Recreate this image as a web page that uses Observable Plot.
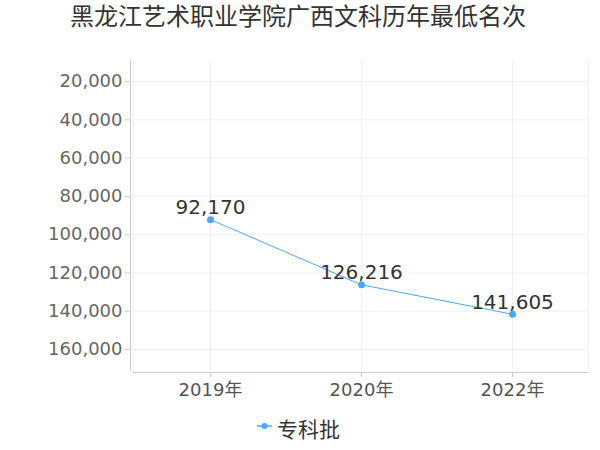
<!DOCTYPE html>
<html>
<head>
<meta charset="utf-8">
<script src="https://cdn.jsdelivr.net/npm/d3@7"></script>
<script src="https://cdn.jsdelivr.net/npm/@observablehq/plot@0.6"></script>
<style>
  html, body { margin: 0; padding: 0; background: #fff; }
  #wrap { position: relative; width: 600px; height: 450px; font-family: "DejaVu Sans", "Noto Sans CJK SC", sans-serif; }
  #title { position: absolute; left: 0; width: 596px; text-align: center; top: 2px; font-size: 24px; line-height: 30px; color: #333; white-space: nowrap; }
  #legend { position: absolute; left: 256px; top: 416px; font-size: 21px; line-height: 28px; height: 28px; color: #333; display: flex; align-items: flex-start; white-space: nowrap; }
  #legend svg { margin-right: 4px; display: block; }
</style>
</head>
<body>
<div id="wrap">
  <div id="chart"></div>
  <div id="title"></div>
  <div id="legend"></div>
</div>
<script>
const titleText = "黑龙江艺术职业学院广西文科历年最低名次";
const years = ["2019年", "2020年", "2022年"];
const ranks = [92170, 126216, 141605];
const yTicks = [20000, 40000, 60000, 80000, 100000, 120000, 140000, 160000];
const seriesName = "专科批";
const lineColor = "#4da6ff";

const data = years.map((y, i) => ({ year: y, rank: ranks[i] }));
const fmt = d3.format(",");

const chart = Plot.plot({
  width: 600,
  height: 450,
  marginTop: 60,
  marginBottom: 80,
  marginLeft: 133,
  marginRight: 12,
  style: { fontFamily: '"DejaVu Sans", "Noto Sans CJK SC", sans-serif', background: "white", overflow: "visible" },
  x: { type: "point", domain: years, padding: 0.5, label: null },
  y: { domain: [9000, 171000], reverse: true, label: null },
  marks: [
    Plot.gridY(yTicks, { stroke: "#f0f0f0", strokeOpacity: 1 }),
    Plot.gridX({ stroke: "#f0f0f0", strokeOpacity: 1 }),
    Plot.frame({ anchor: "left", stroke: "#f0f0f0" }),
    Plot.frame({ anchor: "right", stroke: "#f0f0f0" }),
    Plot.frame({ anchor: "left", stroke: "#ccc", dx: -3 }),
    Plot.frame({ anchor: "bottom", stroke: "#ccc", dy: 2 }),
    Plot.axisY({ ticks: yTicks, tickFormat: fmt, tickSize: 5, tickPadding: 3, dx: -3, fontSize: 18, fill: "#666", stroke: "#ccc", label: null }),
    Plot.axisX({ tickSize: 5, tickPadding: 6, dy: 2, fontSize: 18, fill: "#555", stroke: "#ccc", label: null }),
    Plot.line(data, { x: "year", y: "rank", stroke: lineColor, strokeWidth: 1 }),
    Plot.dot(data, { x: "year", y: "rank", fill: lineColor, r: 3.5 }),
    Plot.text(data, { x: "year", y: "rank", text: d => fmt(d.rank), dy: -12, fontSize: 20, fill: "#333" })
  ]
});
document.getElementById("chart").appendChild(chart);
document.getElementById("title").textContent = titleText;
document.getElementById("legend").innerHTML =
  `<svg width="17" height="28"><line x1="1" x2="16" y1="10" y2="10" stroke="${lineColor}" stroke-width="1.5"/><circle cx="8.5" cy="10" r="3" fill="${lineColor}"/></svg><span>${seriesName}</span>`;
</script>
</body>
</html>
